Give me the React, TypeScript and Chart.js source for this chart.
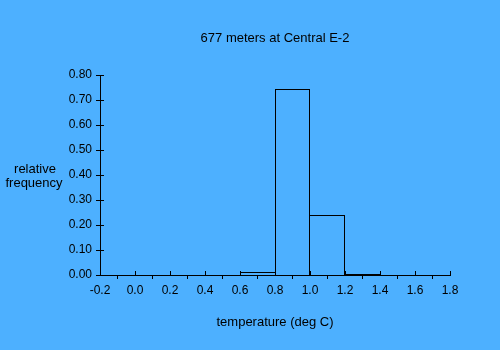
import React, { useEffect, useRef } from "react";
import { Chart, registerables } from "chart.js";

Chart.register(...registerables);

const binEdges = [0.6, 0.8, 1.0, 1.2, 1.4];
const frequencies = [0.012, 0.744, 0.24, 0.004];
const titleText = "677 meters at Central E-2";
const xTitle = "temperature (deg C)";
const yTitleLines = ["relative", "frequency"];
const xMin = -0.2;
const xMax = 1.8;
const yMin = 0;
const yMax = 0.8;

const BG = "rgb(77,176,255)";
const FONT = "'Liberation Sans', Arial, sans-serif";

export default function App() {
  const ref = useRef<HTMLCanvasElement | null>(null);

  useEffect(() => {
    if (!ref.current) return;
    const points = frequencies.map((f, i) => ({
      x: (binEdges[i] + binEdges[i + 1]) / 2,
      y: f,
    }));

    const decor = {
      id: "decor",
      beforeDraw(chart: any) {
        const ctx = chart.ctx;
        ctx.save();
        ctx.fillStyle = BG;
        ctx.fillRect(0, 0, chart.width, chart.height);
        ctx.restore();
      },
      afterDraw(chart: any) {
        const ctx = chart.ctx;
        const xs = chart.scales.x;
        const ys = chart.scales.y;
        const area = chart.chartArea;
        ctx.save();
        ctx.strokeStyle = "#000";
        ctx.lineWidth = 1;
        ctx.beginPath();
        xs.ticks.forEach((_t: any, i: number) => {
          const px = Math.round(xs.getPixelForTick(i)) + 0.5;
          ctx.moveTo(px, area.bottom);
          ctx.lineTo(px, area.bottom - 4);
        });
        ys.ticks.forEach((_t: any, i: number) => {
          const py = Math.round(ys.getPixelForTick(i)) + 0.5;
          ctx.moveTo(area.left, py);
          ctx.lineTo(area.left + 4, py);
        });
        ctx.stroke();

        ctx.fillStyle = "#000";
        ctx.font = `13px ${FONT}`;
        ctx.textAlign = "center";
        ctx.textBaseline = "middle";
        const cx = (area.left + area.right) / 2;
        ctx.fillText(titleText, cx, 38);
        ctx.fillText(xTitle, cx, 322);
        ctx.fillText(yTitleLines[0], 35, 169);
        ctx.fillText(yTitleLines[1], 34, 183);
        ctx.restore();
      },
    };

    const edgeWidths = (c: any) => {
      const i = c.dataIndex;
      const n = frequencies.length;
      const f = frequencies;
      const left = i === 0 || f[i] > f[i - 1] ? 1 : 0;
      const right = i === n - 1 || f[i] >= f[i + 1] ? 1 : 0;
      return { top: 1, left, right, bottom: 0 };
    };

    const chart = new Chart(ref.current, {
      type: "bar",
      data: {
        datasets: [
          {
            data: points,
            backgroundColor: "rgba(0,0,0,0)",
            borderColor: "#000",
            borderWidth: edgeWidths,
            borderSkipped: false,
            inflateAmount: 0,
            base: -0.004,
            barPercentage: 1,
            categoryPercentage: 1,
            grouped: false,
          } as any,
        ],
      },
      options: {
        responsive: false,
        animation: false,
        layout: { padding: { left: 0, right: 50, top: 75, bottom: 0 } },
        plugins: {
          legend: { display: false },
          title: { display: false },
          tooltip: { enabled: false },
        },
        scales: {
          x: {
            type: "linear",
            min: xMin,
            max: xMax,
            offset: false,
            grid: {
              drawOnChartArea: false,
              color: "#000",
              tickLength: 4,
              tickColor: "#000",
            },
            border: { color: "#000", width: 1 },
            ticks: {
              stepSize: 0.2,
              color: "#000",
              font: { family: FONT, size: 12 },
              padding: 4,
              maxRotation: 0,
              autoSkip: false,
              callback: (v: any) => (Math.round(Number(v) * 10) / 10).toFixed(1),
            },
            afterFit: (scale: any) => {
              scale.height = 75;
            },
          },
          y: {
            type: "linear",
            min: yMin,
            max: yMax,
            grid: {
              drawOnChartArea: false,
              color: "#000",
              tickLength: 4,
              tickColor: "#000",
            },
            border: { color: "#000", width: 1 },
            ticks: {
              stepSize: 0.1,
              color: "#000",
              font: { family: FONT, size: 12 },
              padding: 4,
              callback: (v: any) => (Math.round(Number(v) * 100) / 100).toFixed(2),
            },
            afterFit: (scale: any) => {
              scale.width = 100;
            },
          },
        },
      },
      plugins: [decor],
    });
    return () => chart.destroy();
  }, []);

  return (
    <div style={{ position: "fixed", left: 0, top: 0, width: 500, height: 350, background: BG }}>
      <canvas ref={ref} width={500} height={350} style={{ display: "block" }} />
    </div>
  );
}
